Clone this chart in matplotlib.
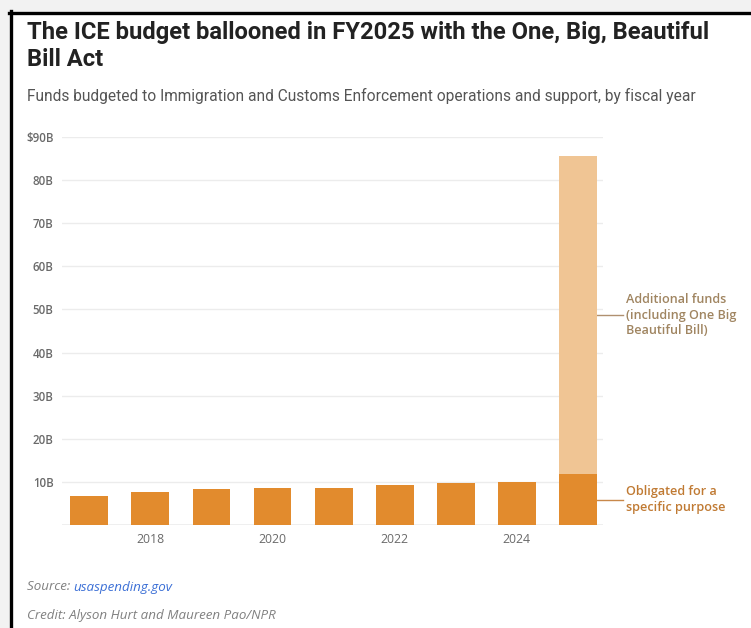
import matplotlib
matplotlib.use("Agg")
import matplotlib.pyplot as plt
from matplotlib.patches import Rectangle
from matplotlib.lines import Line2D

# ICE operations and support funds, billions of dollars
years = [2017, 2018, 2019, 2020, 2021, 2022, 2023, 2024, 2025]
obligated = [6.7, 7.6, 8.3, 8.6, 8.5, 9.3, 9.7, 9.9, 11.8]
additional = [0, 0, 0, 0, 0, 0, 0, 0, 73.7]

yticks = [10, 20, 30, 40, 50, 60, 70, 80, 90]
ytick_labels = ["10B", "20B", "30B", "40B", "50B", "60B", "70B", "80B", "$90B"]
xticks = [2018, 2020, 2022, 2024]

dark = "#e28b2d"
light = "#f0c594"
grid_col = "#ececec"
tick_col = "#6a6a6a"

W, H = 751, 628
fig = plt.figure(figsize=(W / 100, H / 100), dpi=100)
fig.patch.set_facecolor("#f2f2f2")

# white card with a black frame on the top and left
fig.patches.append(Rectangle((12 / W, 0), 1, 1 - 14 / H, transform=fig.transFigure,
                             facecolor="white", edgecolor="none", zorder=-5))
fig.lines.append(Line2D([10.5 / W, 10.5 / W], [0, 1 - 11 / H], transform=fig.transFigure,
                        color="black", lw=2.4, zorder=-4))
fig.lines.append(Line2D([9 / W, 1], [1 - 12.5 / H, 1 - 12.5 / H], transform=fig.transFigure,
                        color="black", lw=2.4, zorder=-4))

ax = fig.add_axes([62 / W, (H - 525) / H, (603 - 62) / W, (525 - 137) / H])
ax.set_zorder(2)
ax.patch.set_alpha(0)

ax.bar(years, obligated, width=0.62, color=dark, zorder=3)
ax.bar(years, additional, width=0.62, bottom=obligated, color=light, zorder=3)

ax.set_xlim(2016.553, 2025.41)
ax.set_ylim(0, 90)
for s in ax.spines.values():
    s.set_visible(False)
ax.axhline(0, color=grid_col, lw=1.2, zorder=1)
for v in yticks:
    ax.axhline(v, color=grid_col, lw=1.0, zorder=1)

ax.set_yticks(yticks)
ax.set_yticklabels(ytick_labels, fontfamily="Open Sans", fontsize=8.3, color=tick_col,
                   fontweight="semibold")
ax.set_xticks(xticks)
ax.set_xticklabels([str(x) for x in xticks], fontfamily="Open Sans", fontsize=8.8,
                   color=tick_col)
ax.tick_params(axis="both", length=0)
ax.tick_params(axis="y", pad=6)
ax.tick_params(axis="x", pad=6)

# annotations for the FY2025 bar
x_last = years[-1]
x_edge = x_last + 0.31
x_end = x_last + 0.74
y_add = obligated[-1] + additional[-1] / 2
y_obl = obligated[-1] / 2
ax.plot([x_edge, x_end], [y_add, y_add], color="#b09070", lw=1, clip_on=False)
ax.plot([x_edge, x_end], [y_obl, y_obl], color="#c8884a", lw=1, clip_on=False)
ax.text(x_end + 0.05, y_add, "Additional funds\n(including One Big\nBeautiful Bill)",
        fontfamily="Open Sans", fontweight="semibold", fontsize=9.1, color="#a08561",
        va="center", ha="left", linespacing=1.25)
ax.text(x_end + 0.05, y_obl, "Obligated for a\nspecific purpose",
        fontfamily="Open Sans", fontweight="semibold", fontsize=9.1, color="#c07a33",
        va="center", ha="left", linespacing=1.25)

# headline and subtitle
fig.text(27 / W, 1 - 32 / H, "The ICE budget ballooned in FY2025 with the One, Big, Beautiful",
         fontfamily="Roboto", fontweight="bold", fontsize=17.1, color="#222222", va="center")
fig.text(27 / W, 1 - 60 / H, "Bill Act",
         fontfamily="Roboto", fontweight="bold", fontsize=17.1, color="#222222", va="center")
fig.text(27 / W, 1 - 96 / H,
         "Funds budgeted to Immigration and Customs Enforcement operations and support, by fiscal year",
         fontfamily="Roboto", fontsize=11.2, color="#555555", va="center")

# footer
src = fig.text(27 / W, 1 - 587 / H, "Source: ", fontfamily="Open Sans", style="italic",
               fontsize=9.6, color="#808080", va="center")
fig.canvas.draw()
bb = src.get_window_extent()
fig.text(bb.x1 / W, 1 - 587 / H, "usaspending.gov", fontfamily="Open Sans", style="italic",
         fontsize=9.6, color="#3b6fd6", va="center")
fig.text(27 / W, 1 - 615 / H, "Credit: Alyson Hurt and Maureen Pao/NPR", fontfamily="Open Sans",
         style="italic", fontsize=9.6, color="#808080", va="center")

fig.savefig("out.png", dpi=100, facecolor=fig.get_facecolor())
